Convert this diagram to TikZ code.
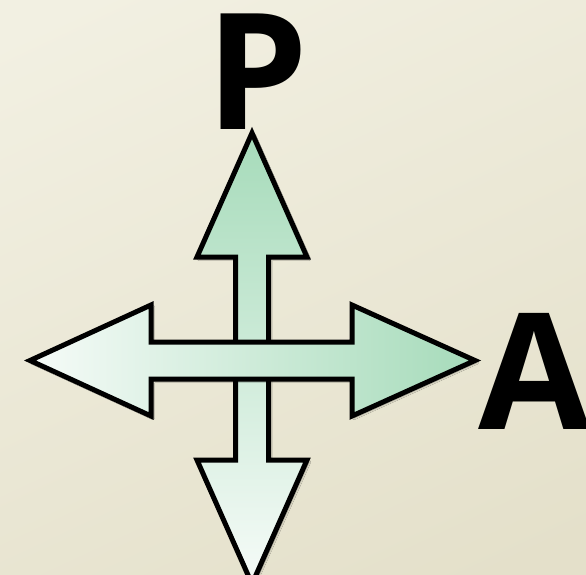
\documentclass[tikz,border=0pt]{standalone}
\usepackage{fontspec}
\newfontfamily\letterfont{Open Sans}
\usepackage{tikz}
\usetikzlibrary{shadows.blur}
\definecolor{bgtop}{RGB}{242,240,226}
\definecolor{bgbot}{RGB}{228,224,202}
\definecolor{arrowgreen}{RGB}{166,219,186}
\definecolor{arrowpale}{RGB}{246,251,248}

\begin{document}
\begin{tikzpicture}[x=1pt,y=-1pt,
  arrowline/.style={line width=5pt,line join=miter,draw=black},
  arrowshadow/.style={blur shadow={shadow xshift=2pt,shadow yshift=-2pt,shadow blur steps=6,shadow opacity=40}},
  letter/.style={inner sep=0pt,font=\letterfont\bfseries\fontsize{162}{162}\selectfont}]
  \useasboundingbox (0,0) rectangle (586,575);
  \clip (0,0) rectangle (586,575);
  \shade[top color=bgtop,bottom color=bgbot,shading angle=25] (-60,-60) rectangle (646,635);
  \shade[arrowline,arrowshadow,top color=arrowgreen,bottom color=arrowpale]
    (252,133) -- (307,257) -- (268.5,257) -- (268.5,460) -- (307,460) -- (252,584)
    -- (197,460) -- (235.5,460) -- (235.5,257) -- (197,257) -- cycle;
  \shade[arrowline,arrowshadow,left color=arrowpale,right color=arrowgreen]
    (30,360.5) -- (151,305) -- (151,342) -- (352,342) -- (352,305) -- (475,360.5)
    -- (352,416) -- (352,379) -- (151,379) -- (151,416) -- cycle;
  \node[letter,anchor=base] (plabel) at (257,130) {P};
  \node[letter,anchor=base west] (alabel) at (478,429) {A};
\end{tikzpicture}
\end{document}
